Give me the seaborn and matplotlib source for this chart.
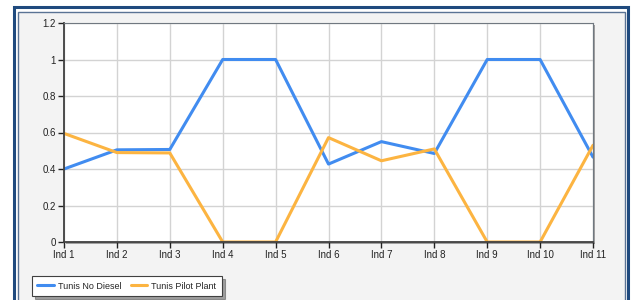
import pandas as pd
import matplotlib.pyplot as plt
import seaborn as sns
from matplotlib.patches import Rectangle

# data
labels = ["Ind 1", "Ind 2", "Ind 3", "Ind 4", "Ind 5", "Ind 6",
          "Ind 7", "Ind 8", "Ind 9", "Ind 10", "Ind 11"]
no_diesel = [0.40, 0.505, 0.507, 1.0, 1.0, 0.427, 0.55, 0.485, 1.0, 1.0, 0.465]
pilot_plant = [0.595, 0.49, 0.488, 0.0, 0.0, 0.572, 0.445, 0.51, 0.0, 0.0, 0.53]
series_names = ["Tunis No Diesel", "Tunis Pilot Plant"]
colors = ["#418CF0", "#FCB441"]

df = pd.DataFrame({"x": list(range(len(labels))) * 2,
                   "value": no_diesel + pilot_plant,
                   "series": [series_names[0]] * len(labels) + [series_names[1]] * len(labels)})

sns.set_style("white")
plt.rcParams["font.family"] = ["Liberation Sans", "DejaVu Sans"]

W, H = 631, 300
fig = plt.figure(figsize=(W / 100, H / 100), dpi=100)
fig.patch.set_facecolor("white")

# outer frame (dark blue) + inner light panel
fig.patches.append(Rectangle((14 / W, -0.1), (628 - 14) / W, (300 - 7) / H + 0.1,
                             transform=fig.transFigure, facecolor="none",
                             edgecolor="#1F4A7E", linewidth=2.2, zorder=-3))
fig.patches.append(Rectangle((17.5 / W, -0.1), (624.5 - 17.5) / W, (300 - 11.5) / H + 0.1,
                             transform=fig.transFigure, facecolor="#F3F3F3",
                             edgecolor="#5A7394", linewidth=1.0, zorder=-2))
# shadow of plot area
fig.patches.append(Rectangle((66 / W, (300 - 244) / H), (595 - 66) / W, (244 - 25) / H,
                             transform=fig.transFigure, facecolor="#A0A0A0",
                             edgecolor="none", zorder=-1))

ax = fig.add_axes([64 / W, (300 - 242) / H, (593 - 64) / W, (242 - 23) / H])
ax.set_facecolor("white")

sns.lineplot(data=df, x="x", y="value", hue="series", palette=colors,
             linewidth=2.2, ax=ax, legend=False)

ax.set_xlim(0, len(labels) - 1)
ax.set_ylim(0, 1.2)
ax.set_xticks(range(len(labels)))
ax.set_xticklabels(labels)
ax.set_yticks([0, 0.2, 0.4, 0.6, 0.8, 1.0, 1.2])
ax.set_yticklabels(["0", "0.2", "0.4", "0.6", "0.8", "1", "1.2"])
ax.set_xlabel("")
ax.set_ylabel("")
ax.grid(True, color="#D3D3D3", linewidth=1.0)
ax.tick_params(axis="both", labelsize=7, colors="#222222", length=4, width=1,
               direction="out", bottom=True, left=True, pad=2)
for s in ["left", "bottom"]:
    ax.spines[s].set_color("#404040")
    ax.spines[s].set_linewidth(1.3)
for s in ["top", "right"]:
    ax.spines[s].set_color("#707880")
    ax.spines[s].set_linewidth(0.8)

# legend
handles = [plt.Line2D([], [], color=c, linewidth=2.2) for c in colors]
leg = fig.legend(handles, series_names, loc="lower left",
                 bbox_to_anchor=(32 / W, (300 - 296) / H), ncol=2, fontsize=6.5,
                 frameon=True, fancybox=False, shadow=True, handlelength=1.8,
                 columnspacing=1.0, borderpad=0.6, handletextpad=0.5,
                 borderaxespad=0)
leg.get_frame().set_edgecolor("#404040")
leg.get_frame().set_linewidth(0.8)
leg.get_frame().set_facecolor("white")

fig.savefig("out.png", dpi=100)
